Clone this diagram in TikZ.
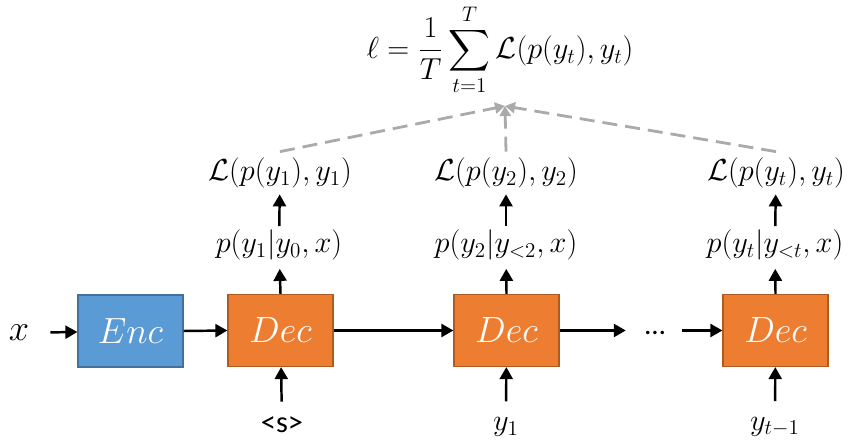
\documentclass[tikz,border=0pt]{standalone}
\usepackage{amsmath, amssymb}
\usepackage{fontspec}
\newfontfamily\calibrifont{Carlito}
\usepackage{tikz}
\usetikzlibrary{positioning, arrows.meta}
\definecolor{EncBlue}{RGB}{91, 155, 213}
\definecolor{EncEdge}{RGB}{65, 113, 156}
\definecolor{DecOrange}{RGB}{237, 125, 49}
\definecolor{DecEdge}{RGB}{174, 90, 33}
\definecolor{LossGray}{RGB}{170, 170, 170}

\begin{document}
\begin{tikzpicture}[scale=1,
    block/.style={draw, line width=0.7pt, minimum width=2.1cm, minimum height=1.44cm, text=white, font=\huge},
    lbl/.style={font=\fontsize{16.5}{20}\selectfont},
    inlbl/.style={font=\LARGE},
    flow/.style={-{Triangle[length=2.4mm, width=2.6mm]}, line width=1.4pt},
    lossflow/.style={-{Triangle[length=2mm, width=2.2mm]}, LossGray, line width=1.6pt, dash pattern=on 3mm off 1.6mm}]
    \useasboundingbox (0,0) rectangle (16.98,8.9);

    % Encoder / decoder chain
    \node[font=\huge] (x) at (0.38,2.24) {$x$};
    \node[block, fill=EncBlue, draw=EncEdge] (enc) at (2.61,2.28) {$Enc$};
    \node[block, fill=DecOrange, draw=DecEdge] (dec1) at (5.61,2.29) {$Dec$};
    \node[block, fill=DecOrange, draw=DecEdge] (dec2) at (10.13,2.29) {$Dec$};
    \node[block, fill=DecOrange, draw=DecEdge] (dec3) at (15.51,2.29) {$Dec$};
    \node[lbl] (dots) at (13.1,2.24) {\calibrifont …};

    \draw[flow, shorten <=3mm] (x) -- (enc);
    \draw[flow] (enc.east) -- (dec1.west);
    \draw[flow] (dec1) -- (dec2);
    \draw[flow, shorten >=2.6mm] (dec2.east) -- (dots.west |- dec2.east);
    \draw[flow, shorten <=2.2mm] (dots.east |- dec3.west) -- (dec3.west);

    % Inputs
    \node[inlbl] (in1) at (5.64,0.4) {\calibrifont <s>};
    \node[inlbl] (in2) at (10.12,0.36) {$y_1$};
    \node[inlbl] (in3) at (15.5,0.36) {$y_{t-1}$};
    \draw[flow, shorten <=1.8mm] (in1) -- (dec1);
    \draw[flow, shorten <=2mm] (in2) -- (dec2);
    \draw[flow, shorten <=2mm] (in3) -- (dec3);

    % Outputs
    \node[lbl] (p1) at (5.58,4.0) {$p(y_1|y_0,x)$};
    \node[lbl] (p2) at (10.12,4.0) {$p(y_2|y_{<2},x)$};
    \node[lbl] (p3) at (15.5,4.0) {$p(y_t|y_{<t},x)$};
    \draw[flow, shorten >=0.5mm] (dec1.north) -- (p1);
    \draw[flow, shorten >=0.5mm] (dec2.north) -- (p2);
    \draw[flow, shorten >=0.5mm] (dec3.north) -- (p3);

    % Losses
    \node[lbl] (l1) at (5.6,5.44) {$\mathcal{L}(p(y_1),y_1)$};
    \node[lbl] (l2) at (10.12,5.44) {$\mathcal{L}(p(y_2),y_2)$};
    \node[lbl] (l3) at (15.52,5.44) {$\mathcal{L}(p(y_t),y_t)$};
    \draw[flow, shorten <=-0.5mm] (p1) -- (l1);
    \draw[flow, shorten <=-0.5mm] (p2) -- (l2);
    \draw[flow, shorten <=-0.5mm] (p3) -- (l3);

    % Total loss
    \node[lbl] (total) at (10.0,7.9) {$\displaystyle \ell = \frac{1}{T}\sum_{t=1}^{T}\mathcal{L}(p(y_t),y_t)$};
    \coordinate (sum) at (10.1,6.78);
    \draw[lossflow] (l1.north) -- (sum);
    \draw[lossflow] (l2.north) -- (sum);
    \draw[lossflow] (l3.north) -- (sum);
\end{tikzpicture}
\end{document}
